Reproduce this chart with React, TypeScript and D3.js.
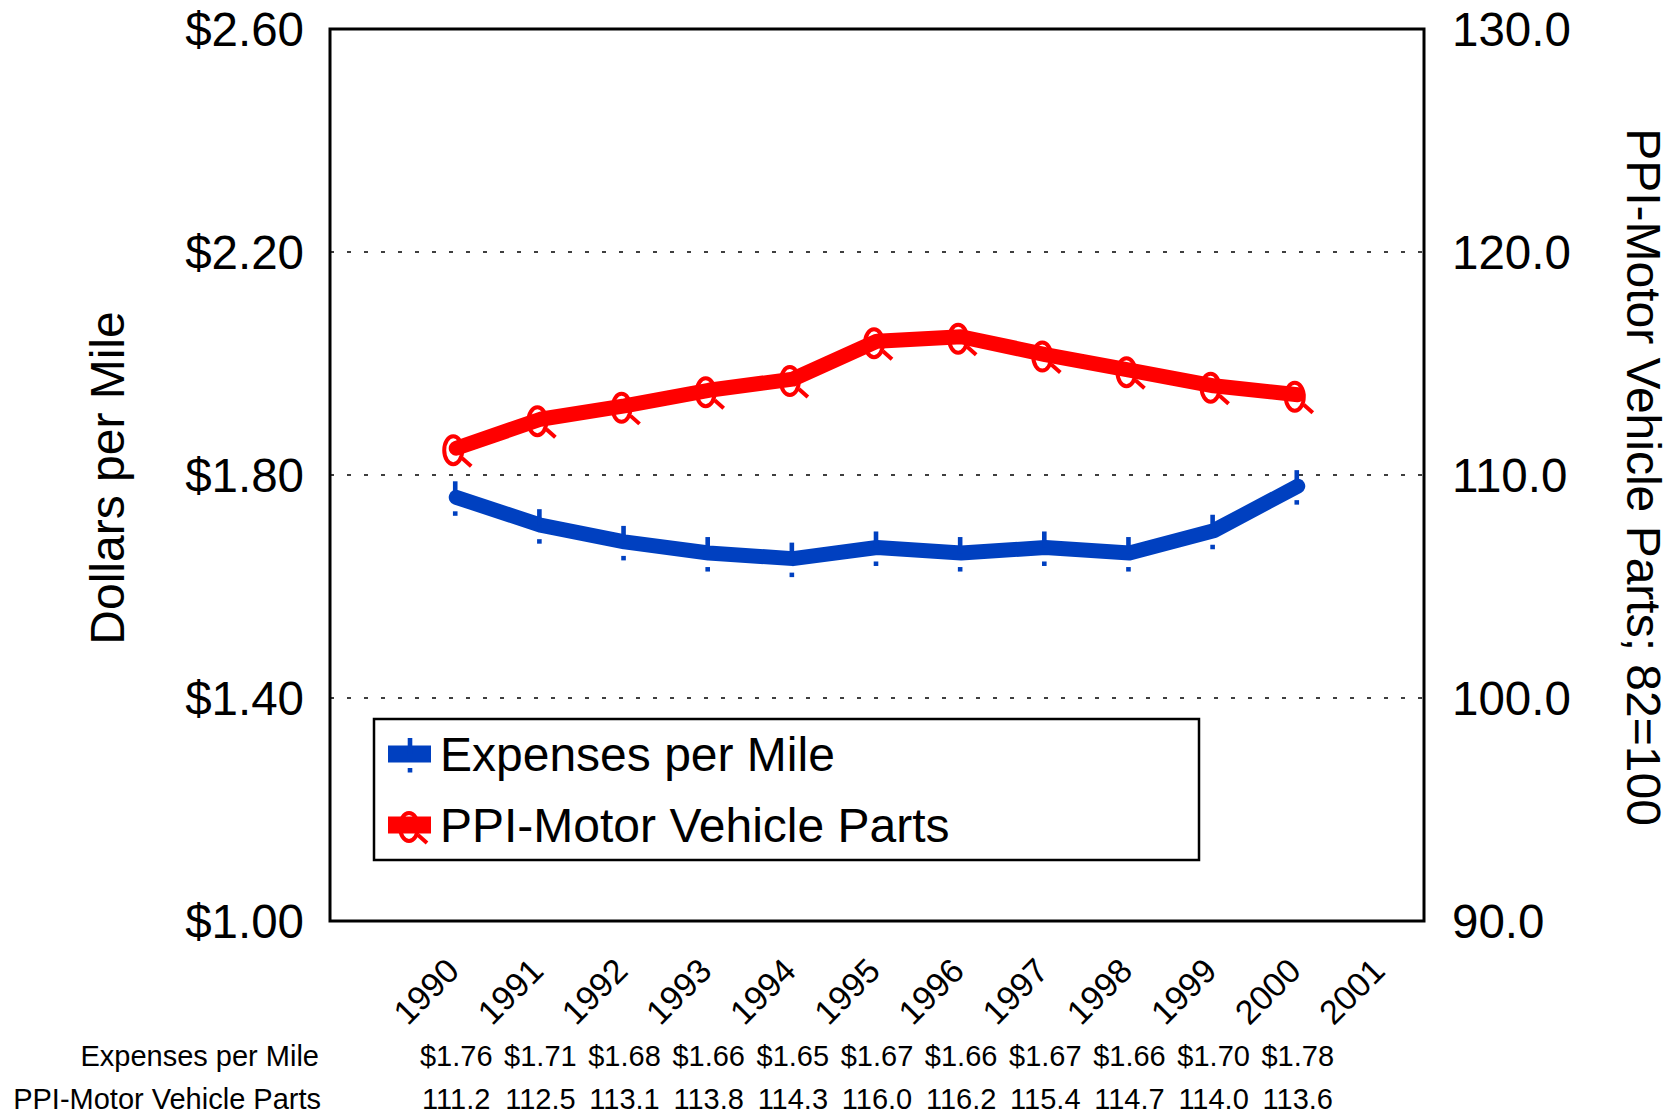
import React from "react";
import * as d3 from "d3";

const years = [1990, 1991, 1992, 1993, 1994, 1995, 1996, 1997, 1998, 1999, 2000, 2001];
const expenses = [1.76, 1.71, 1.68, 1.66, 1.65, 1.67, 1.66, 1.67, 1.66, 1.7, 1.78];
const ppi = [111.2, 112.5, 113.1, 113.8, 114.3, 116.0, 116.2, 115.4, 114.7, 114.0, 113.6];
const leftTicks = [1.0, 1.4, 1.8, 2.2, 2.6];
const rightTicks = [90, 100, 110, 120, 130];
const seriesNames = ["Expenses per Mile", "PPI-Motor Vehicle Parts"];

const W = 1679;
const H = 1118;
const L = 330, R = 1424, T = 29, B = 921;
const BLUE = "#0040C0";
const RED = "#FF0000";
const FONT = "'Liberation Sans', Arial, sans-serif";

export default function App() {
  const x = d3.scaleLinear().domain([1988.5, 2001.5]).range([L, R]);
  const yL = d3.scaleLinear().domain([1.0, 2.6]).range([B, T]);
  const yR = d3.scaleLinear().domain([90, 130]).range([B, T]);

  const expPts: [number, number][] = expenses.map((v, i) => [x(years[i]), yL(v)]);
  const ppiPts: [number, number][] = ppi.map((v, i) => [x(years[i]), yR(v)]);
  const line = d3.line();

  const blueMarker = (cx: number, cy: number, k: string) => (
    <g key={k} fill={BLUE}>
      <rect x={cx - 3.3} y={cy - 16} width={4.6} height={16} />
      <rect x={cx - 3.3} y={cy + 14} width={4.6} height={4.5} />
    </g>
  );
  const redMarker = (cx: number, cy: number, k: string) => (
    <g key={k}>
      <ellipse cx={cx - 3} cy={cy + 2} rx={9} ry={14} fill="none" stroke={RED} strokeWidth={4} />
      <line x1={cx + 6} y1={cy + 10} x2={cx + 15} y2={cy + 18} stroke={RED} strokeWidth={4} />
    </g>
  );

  return (
    <svg width={W} height={H} style={{ position: "absolute", left: 0, top: 0, background: "#fff" }} fontFamily={FONT}>
      <rect x={0} y={0} width={W} height={H} fill="#fff" />
      {/* gridlines */}
      {leftTicks.slice(1, -1).map((t) => (
        <line key={t} x1={L} x2={R} y1={yL(t)} y2={yL(t)} stroke="#000" strokeWidth={1.5} strokeDasharray="4 13" />
      ))}
      {/* plot frame */}
      <rect x={L} y={T} width={R - L} height={B - T} fill="none" stroke="#000" strokeWidth={3} />

      {/* left ticks */}
      {leftTicks.map((t) => (
        <text key={t} x={304} y={yL(t)} dy="0.35em" textAnchor="end" fontSize={47.5}>
          {d3.format("$.2f")(t)}
        </text>
      ))}
      {rightTicks.map((t) => (
        <text key={t} x={1452} y={yR(t)} dy="0.35em" textAnchor="start" fontSize={47.5}>
          {d3.format(".1f")(t)}
        </text>
      ))}

      {/* axis titles */}
      <text transform={`translate(107,478) rotate(-90)`} textAnchor="middle" dy="0.35em" fontSize={48}>
        Dollars per Mile
      </text>
      <text transform={`translate(1644,477) rotate(90)`} textAnchor="middle" dy="0.35em" fontSize={48}>
        PPI-Motor Vehicle Parts; 82=100
      </text>

      {/* x labels */}
      {years.map((yr) => (
        <text key={yr} transform={`translate(${x(yr) + 5},973) rotate(-45)`} textAnchor="end" fontSize={34}>
          {yr}
        </text>
      ))}

      {/* lines */}
      <path d={line(ppiPts) || ""} fill="none" stroke={RED} strokeWidth={15} strokeLinejoin="round" strokeLinecap="round" />
      {ppiPts.map((p, i) => redMarker(p[0], p[1], "r" + i))}
      <path d={line(expPts) || ""} fill="none" stroke={BLUE} strokeWidth={15} strokeLinejoin="round" strokeLinecap="round" />
      {expPts.map((p, i) => blueMarker(p[0], p[1], "b" + i))}

      {/* legend */}
      <rect x={374} y={719} width={825} height={141} fill="#fff" stroke="#000" strokeWidth={2.5} />
      <line x1={388} x2={431} y1={754} y2={754} stroke={BLUE} strokeWidth={17} />
      {blueMarker(411, 754, "lb")}
      <text x={440} y={771} fontSize={48}>{seriesNames[0]}</text>
      <line x1={388} x2={431} y1={825} y2={825} stroke={RED} strokeWidth={17} />
      {redMarker(412, 825, "lr")}
      <text x={440} y={842} fontSize={48}>{seriesNames[1]}</text>

      {/* data table */}
      <text x={319} y={1066} textAnchor="end" fontSize={29}>{seriesNames[0]}</text>
      <text x={321} y={1109} textAnchor="end" fontSize={29}>{seriesNames[1]}</text>
      {expenses.map((v, i) => (
        <text key={"te" + i} x={x(years[i])} y={1066} textAnchor="middle" fontSize={29}>
          {d3.format("$.2f")(v)}
        </text>
      ))}
      {ppi.map((v, i) => (
        <text key={"tp" + i} x={x(years[i])} y={1109} textAnchor="middle" fontSize={29}>
          {d3.format(".1f")(v)}
        </text>
      ))}
    </svg>
  );
}
